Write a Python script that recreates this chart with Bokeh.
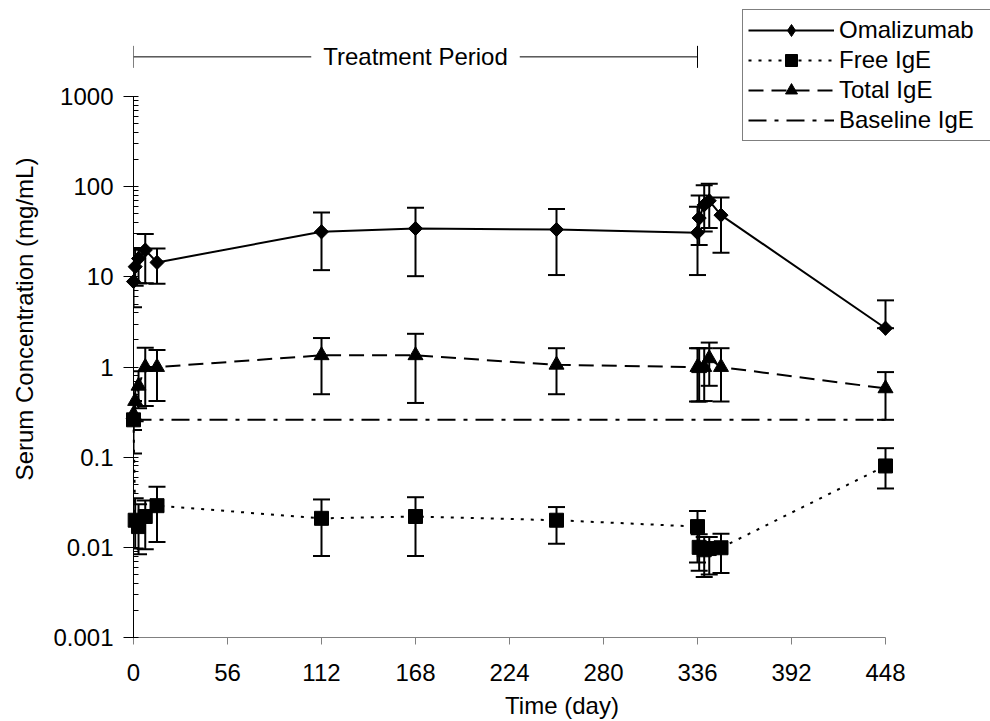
import numpy as np
from bokeh.plotting import figure
from bokeh.models import (ColumnDataSource, Whisker, TeeHead, Legend, LegendItem,
                          FixedTicker, Range1d, Label, Arrow, CustomJSTickFormatter)
from bokeh.embed import file_html
from bokeh.resources import INLINE

# ---------------- data ----------------
days = [0, 1, 3, 7, 14, 112, 168, 252, 336, 337, 340, 343, 350, 448]

omalizumab = [8.9, 13, 16, 19.9, 14.5, 31.7, 34.5, 33.6, 31, 45, 63, 70, 48.5, 2.7]
omalizumab_lo = [4.6, 8, 8.5, 8.5, 8.4, 11.9, 10.2, 10.5, 10.5, 22.6, 32, 35, 18.6, 2.7]
omalizumab_hi = [20.7, 20, 21, 29.9, 20.7, 52, 58.5, 56.6, 60, 80, 104, 108, 76, 5.5]

free_ige = [0.26, 0.02, 0.017, 0.022, 0.029, 0.021, 0.022, 0.02, 0.017, 0.01, 0.0094, 0.0097, 0.0099, 0.08]
free_ige_lo = [0.11, 0.0097, 0.0084, 0.0095, 0.0115, 0.008, 0.008, 0.011, 0.0068, 0.0055, 0.0047, 0.005, 0.0052, 0.045]
free_ige_hi = [0.42, 0.035, 0.03, 0.033, 0.047, 0.034, 0.036, 0.028, 0.0253, 0.014, 0.013, 0.013, 0.0142, 0.126]

total_ige = [0.3, 0.42, 0.62, 1.0, 1.0, 1.35, 1.35, 1.06, 1.0, 0.97, 1.0, 1.25, 1.0, 0.58]
total_ige_lo = [0.2, 0.25, 0.35, 0.37, 0.42, 0.5, 0.4, 0.5, 0.415, 0.415, 0.42, 0.62, 0.415, 0.26]
total_ige_hi = [0.42, 0.6, 0.9, 1.64, 1.55, 2.1, 2.34, 1.62, 1.62, 1.62, 1.62, 1.87, 1.62, 0.88]

baseline_days = [0, 448]
baseline_ige = [0.26, 0.26]

treatment_start = 0
treatment_end = 336

x_ticks = [0, 56, 112, 168, 224, 280, 336, 392, 448]
y_ticks = [0.001, 0.01, 0.1, 1, 10, 100, 1000]

# ---------------- figure ----------------
FONT = "Liberation Sans"
PX_PER_DECADE = 90.35
PX_PER_DAY = 752 / 448.0
FRAME_W = 990 - 133
TOP = 10 ** (3 + 96.4 / PX_PER_DECADE)
RIGHT = FRAME_W / PX_PER_DAY

p = figure(width=990, height=721, y_axis_type="log",
           x_range=Range1d(0, RIGHT), y_range=Range1d(0.001, TOP),
           output_backend="svg", toolbar_location=None,
           min_border_left=133, min_border_right=0,
           min_border_top=0, min_border_bottom=82)
p.outline_line_color = None
p.xgrid.visible = False
p.ygrid.visible = False
p.background_fill_color = "white"
p.border_fill_color = "white"

src_om = ColumnDataSource(dict(x=days, y=omalizumab, lo=omalizumab_lo, hi=omalizumab_hi))
src_free = ColumnDataSource(dict(x=days, y=free_ige, lo=free_ige_lo, hi=free_ige_hi))
src_tot = ColumnDataSource(dict(x=days, y=total_ige, lo=total_ige_lo, hi=total_ige_hi))
src_base = ColumnDataSource(dict(x=baseline_days, y=baseline_ige))

LW = 2
l_base = p.line("x", "y", source=src_base, line_color="black", line_width=LW, line_dash="18 8 4 8")
l_free = p.line("x", "y", source=src_free, line_color="black", line_width=LW, line_dash="3 7")
l_tot = p.line("x", "y", source=src_tot, line_color="black", line_width=LW, line_dash="15 8")
l_om = p.line("x", "y", source=src_om, line_color="black", line_width=LW)

for l in (l_base, l_free, l_tot, l_om):
    l.level = "overlay"

def add_whisker(src):
    w = Whisker(source=src, base="x", lower="lo", upper="hi", line_color="black", line_width=LW,
                upper_head=TeeHead(size=17, line_width=LW, line_color="black"),
                lower_head=TeeHead(size=17, line_width=LW, line_color="black"))
    p.add_layout(w)

add_whisker(src_free)
add_whisker(src_tot)
add_whisker(src_om)

# diamond-marker renderer (used as the legend sample), covered by the rotated squares
s_om_d = p.scatter("x", "y", source=src_om, marker="diamond", size=14, color="black")
s_free = p.scatter("x", "y", source=src_free, marker="square", size=14, color="black")
s_tot = p.scatter("x", "y", source=src_tot, marker="triangle", size=15, color="black")
s_om = p.scatter("x", "y", source=src_om, marker="square", angle=np.pi / 4, size=10, color="black")
for s in (s_om_d, s_free, s_tot, s_om):
    s.level = "overlay"

# treatment period bracket
yb = 10 ** (3 + (96.4 - 56.5) / PX_PER_DECADE)
p.add_layout(Arrow(x_start=treatment_start, x_end=treatment_end, y_start=yb, y_end=yb,
                   line_color="black", line_width=1,
                   start=TeeHead(size=22, line_width=1, line_color="black"),
                   end=TeeHead(size=22, line_width=1, line_color="black")))
p.add_layout(Label(x=(treatment_start + treatment_end) / 2, y=yb, text="Treatment Period",
                   text_align="center", text_baseline="middle", text_font=FONT,
                   text_font_size="24px", text_color="black",
                   background_fill_color="white", padding=12))

# axes
xa = p.xaxis[0]
xa.ticker = FixedTicker(ticks=x_ticks)
xa.bounds = (0, 448)
xa.axis_label = "Time (day)"
xa.axis_line_color = "#808080"
xa.major_tick_line_color = "#808080"
xa.major_tick_out = 7
xa.major_tick_in = 0
xa.minor_tick_line_color = None
xa.major_label_standoff = 19
xa.axis_label_standoff = 8

ya = p.yaxis[0]
minor = [k * 10.0 ** e for e in range(-3, 3) for k in range(2, 10)]
ya.ticker = FixedTicker(ticks=y_ticks, minor_ticks=minor)
ya.bounds = (0.001, 1000)
ya.formatter = CustomJSTickFormatter(code="return tick >= 1 ? tick.toFixed(0) : tick.toPrecision(1);")
ya.axis_label = "Serum Concentration (mg/mL)"
ya.axis_line_color = "black"
ya.major_tick_line_color = "black"
ya.minor_tick_line_color = "black"
ya.major_tick_out = 10
ya.major_tick_in = 5
ya.minor_tick_out = 0
ya.minor_tick_in = 5
ya.major_label_standoff = 10
ya.axis_label_standoff = 12

for ax in (xa, ya):
    ax.axis_line_width = 1
    ax.major_label_text_font = FONT
    ax.major_label_text_font_size = "24px"
    ax.major_label_text_color = "black"
    ax.axis_label_text_font = FONT
    ax.axis_label_text_font_size = "24px"
    ax.axis_label_text_font_style = "normal"
    ax.axis_label_text_color = "black"

legend = Legend(items=[
    LegendItem(label="Omalizumab", renderers=[l_om, s_om_d]),
    LegendItem(label="Free IgE", renderers=[l_free, s_free]),
    LegendItem(label="Total IgE", renderers=[l_tot, s_tot]),
    LegendItem(label="Baseline IgE", renderers=[l_base]),
], location=(609, 496), glyph_width=86, glyph_height=30, label_height=24, label_width=220,
    spacing=0, padding=5, label_standoff=5, margin=0,
    label_text_font=FONT, label_text_font_size="24px", label_text_color="black",
    border_line_color="black", border_line_width=1, background_fill_color="white",
    background_fill_alpha=1)
p.add_layout(legend)

open("out.html", "w").write(file_html(p, INLINE))
